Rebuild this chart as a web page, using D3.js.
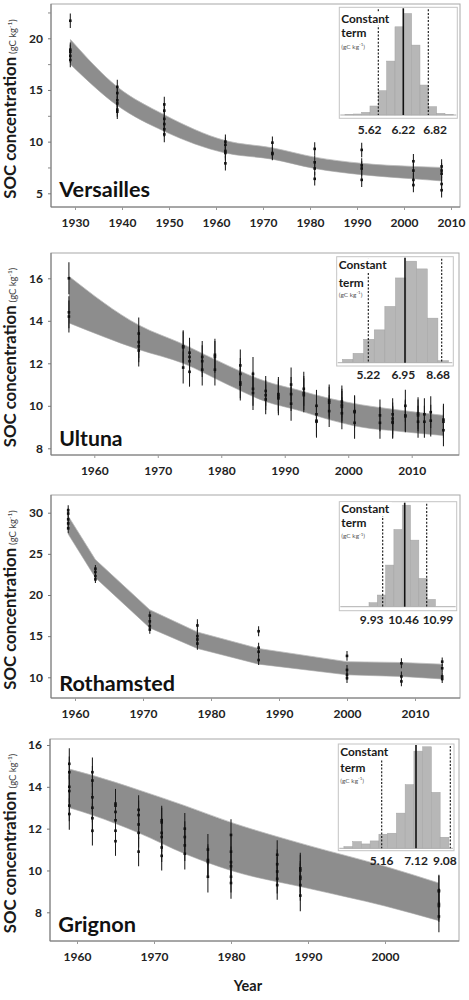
<!DOCTYPE html>
<html><head><meta charset="utf-8">
<script src="https://cdn.jsdelivr.net/npm/d3@7"></script>
<style>body{margin:0;background:#fff} svg{display:block} text{font-family:Lato,"Open Sans",sans-serif}</style>
</head><body><svg id="c" width="469" height="1000"></svg>
<script>
// ---------- DATA ----------
// Versailles
const versaillesYears = [1929,1939,1949,1962,1972,1981,1991,2002,2008];
const versaillesObs = [[21.7,18.9,18.7,18.3,17.9],[15.3,14.7,14.0,13.7,13.1,12.9],[13.6,13.0,12.2,11.7,11.2,10.7],[10.0,9.7,9.1,8.9,7.9],[9.9,8.9,8.8],[9.3,8.0,7.4,6.4],[9.2,7.7,7.4,6.3],[8.1,7.2,6.3,5.8],[7.6,7.2,6.9,5.9,5.3]];
const versaillesErr = [0.7,0.7,0.75,0.7,0.6,0.65,0.7,0.7,0.7];
const versaillesBandYears = [1929,1939,1949,1962,1972,1981,1991,2002,2008];
const versaillesBandUpper = [19.9,15.3,12.6,10.1,9.4,8.5,7.9,7.6,7.5];
const versaillesBandLower = [17.5,13.5,11.0,8.9,8.3,7.4,6.8,6.4,6.2];
const versaillesHistEdges = [4.82,5.02,5.22,5.42,5.62,5.82,6.02,6.22,6.42,6.62,6.82,7.02,7.22,7.42];
const versaillesHistCounts = [2,3,8,27,73,162,265,305,210,90,25,5,2];
const versaillesCI = [5.62,6.22,6.82];
const versaillesXTicks = [1930,1940,1950,1960,1970,1980,1990,2000,2010];
const versaillesYTicks = [5,10,15,20];
const versaillesYMinor = [7.5,12.5,17.5,22.5];

// Ultuna
const ultunaYears = [1956,1967,1974,1975,1977,1979,1983,1985,1987,1989,1991,1993,1995,1997,1999,2001,2005,2007,2009,2011,2012,2013,2015];
const ultunaObs = [[16.0,14.4,14.2],[13.4,13.0,12.8,12.6],[12.8,12.75,11.8],[12.5,12.3,12.1,11.6],[12.3,12.1,11.7],[12.4,12.3,11.7],[11.9,11.5,11.1,11.0],[11.5,10.8,10.6],[10.7,10.5,10.3],[10.55,10.45,10.35],[11.0,10.55,10.1],[10.8,10.6,10.5],[10.0,9.6,9.3,9.25],[10.25,10.15,9.75],[10.2,10.05,9.95,9.65],[9.75,9.7,9.2],[9.55,9.2],[9.6,9.4,9.25,9.2],[10.0,9.55,9.5],[9.65,9.55,9.25],[9.6,9.25],[9.7,9.3],[9.35,9.25,8.85]];
const ultunaErr = [0.75,0.75,0.75,0.7,0.75,0.75,0.75,0.8,0.7,0.8,0.8,0.8,0.75,0.75,0.75,0.75,0.75,0.75,0.75,0.75,0.75,0.75,0.75];
const ultunaBandYears = [1956,1967,1974,1981,1987,1992,1997,2002,2008,2015];
const ultunaBandUpper = [16.1,13.8,12.9,11.9,11.15,10.75,10.35,10.05,9.8,9.55];
const ultunaBandLower = [13.9,12.65,12.0,11.0,10.2,9.8,9.35,9.0,8.8,8.6];
const ultunaHistEdges = [4.0,4.5,5.0,5.5,6.0,6.5,7.0,7.5,8.0,8.5,9.0];
const ultunaHistCounts = [10,28,70,98,168,253,303,280,133,6];
const ultunaCI = [5.22,6.95,8.68];
const ultunaXTicks = [1960,1970,1980,1990,2000,2010];
const ultunaYTicks = [8,10,12,14,16];

// Rothamsted
const rothamstedYears = [1959,1963,1971,1978,1987,2000,2008,2014];
const rothamstedObs = [[30.3,29.9,29.2,28.7,28.1],[23.2,22.8,22.3,21.9],[17.5,16.8,16.2,15.8],[16.3,15.0,14.6,14.1],[15.6,13.6,13.1,12.1],[12.6,10.9,10.3,9.9],[11.7,10.1,9.5],[11.9,11.1,10.1,9.8]];
const rothamstedErr = [0.6,0.45,0.5,0.75,0.6,0.6,0.6,0.5];
const rothamstedBandYears = [1959,1963,1971,1978,1987,2000,2008,2014];
const rothamstedBandUpper = [29.6,24.3,18.2,15.5,13.5,11.9,11.8,11.6];
const rothamstedBandLower = [27.4,22.1,16.0,13.5,11.6,10.3,10.1,9.8];
const rothamstedHistEdges = [9.6,9.8,10.0,10.2,10.4,10.6,10.8,11.0,11.2];
const rothamstedHistCounts = [12,35,125,232,305,200,85,22];
const rothamstedCI = [9.93,10.46,10.99];
const rothamstedXTicks = [1960,1970,1980,1990,2000,2010];
const rothamstedYTicks = [10,15,20,25,30];

// Grignon
const grignonYears = [1959,1962,1965,1968,1971,1974,1977,1980,1986,1989,2007];
const grignonObs = [[15.1,14.7,14.0,13.8,13.1,12.7],[14.7,14.3,13.5,13.0,12.5,11.9],[13.2,13.1,12.8,12.4,11.9,11.4],[12.9,12.65,12.2,11.8,10.9],[12.4,12.3,11.8,11.6,11.1,10.7],[12.0,11.6,11.2,10.8],[11.0,10.5,10.4,9.7],[11.7,10.9,10.4,10.2,9.7,9.4],[10.75,10.3,9.95,9.6,9.3],[10.1,10.0,9.7,9.6,9.3,8.8],[9.05,9.0,8.4,8.3,7.8]];
const grignonErr = [0.75,0.7,0.7,0.7,0.7,0.75,0.75,0.75,0.7,0.75,0.75];
const grignonBandYears = [1959,1962,1968,1974,1980,1990,2000,2007];
const grignonBandUpper = [14.85,14.55,13.85,13.1,12.3,11.2,10.2,9.4];
const grignonBandLower = [13.0,12.65,11.8,10.8,10.0,9.15,8.3,7.6];
const grignonHistEdges = [3.0,3.5,4.0,4.5,5.0,5.5,6.0,6.5,7.0,7.5,8.0,8.5,9.0];
const grignonHistCounts = [5,20,13,22,42,45,105,190,290,303,167,33];
const grignonCI = [5.16,7.12,9.08];
const grignonXTicks = [1960,1970,1980,1990,2000];
const grignonYTicks = [8,10,12,14,16];

const panelNames = ["Versailles","Ultuna","Rothamsted","Grignon"];
const insetTitle = ["Constant","term"];
const unitLabel = "(gC kg";
const yAxisTitle = "SOC concentration";
const xAxisTitle = "Year";

// ---------- LAYOUT ----------
const panels = [
 {name:panelNames[0], years:versaillesYears, obs:versaillesObs, err:versaillesErr,
  bY:versaillesBandYears, bU:versaillesBandUpper, bL:versaillesBandLower,
  hE:versaillesHistEdges, hC:versaillesHistCounts, ci:versaillesCI,
  xt:versaillesXTicks, yt:versaillesYTicks, ym:versaillesYMinor, curve:d3.curveMonotoneX,
  frame:[51,4,460,207], xA:[1930,75,2010,451], yA:[20,38.3,5,193.3],
  label:[59.3,197.3,90.7],
  inset:{box:[339.3,7.3,457.3,118.3], base:115, sA:[5.62,378.3,6.22,403.3], lab:[-8.6,0,6.8], labY:134.3, t1:22.7, t2:36.7, t3:48.5}},
 {name:panelNames[1], years:ultunaYears, obs:ultunaObs, err:ultunaErr,
  bY:ultunaBandYears, bU:ultunaBandUpper, bL:ultunaBandLower,
  hE:ultunaHistEdges, hC:ultunaHistCounts, ci:ultunaCI,
  xt:ultunaXTicks, yt:ultunaYTicks, ym:[], curve:d3.curveMonotoneX,
  frame:[51,253,459,455], xA:[1960,94.3,2010,411.7], yA:[16,278.3,8,448.3],
  label:[59.3,446,63.3],
  inset:{box:[336.7,256.7,453.3,366], base:362.7, sA:[5.22,368.3,6.95,405], lab:[0,-1.7,-3.5], labY:379.3, t1:269.3, t2:286.7, t3:296.5}},
 {name:panelNames[2], years:rothamstedYears, obs:rothamstedObs, err:rothamstedErr,
  bY:rothamstedBandYears, bU:rothamstedBandUpper, bL:rothamstedBandLower,
  hE:rothamstedHistEdges, hC:rothamstedHistCounts, ci:rothamstedCI,
  xt:rothamstedXTicks, yt:rothamstedYTicks, ym:[], curve:d3.curveLinear,
  frame:[51,495,460,698], xA:[1960,75,2010,415], yA:[30,512.7,10,677.3],
  label:[59.3,690.7,115.7],
  inset:{box:[339.3,501.7,456.7,610.7], base:606.7, sA:[9.93,382.7,10.46,404.7], lab:[-11,-1,11.3], labY:624, t1:513.3, t2:527.3, t3:538.3}},
 {name:panelNames[3], years:grignonYears, obs:grignonObs, err:grignonErr,
  bY:grignonBandYears, bU:grignonBandUpper, bL:grignonBandLower,
  hE:grignonHistEdges, hC:grignonHistCounts, ci:grignonCI,
  xt:grignonXTicks, yt:grignonYTicks, ym:[], curve:d3.curveMonotoneX,
  frame:[50,739,459,941], xA:[1960,77,2000,385], yA:[16,745,8,912.3],
  label:[58.3,931.7,77.7],
  inset:{box:[338.3,744,454,850.7], base:848.3, sA:[5.16,381.7,7.12,416], lab:[0,0,-5.4], labY:865, t1:756, t2:771.7, t3:782.7}}
];

const svg = d3.select("#c");
const FONT = "Lato, 'Open Sans', sans-serif";

function fitWidth(sel, target){
  const n = sel.node();
  const w = n.getComputedTextLength();
  const fs = parseFloat(sel.attr("font-size"));
  sel.attr("font-size", (fs*target/w).toFixed(2));
}

let yLabelSize = null;

panels.forEach((p, pi) => {
  const [fx0, fy0, fx1, fy1] = p.frame;
  const x = d3.scaleLinear().domain([p.xA[0], p.xA[2]]).range([p.xA[1], p.xA[3]]);
  const y = d3.scaleLinear().domain([p.yA[0], p.yA[2]]).range([p.yA[1], p.yA[3]]);
  const g = svg.append("g");
  const clipId = "clip"+pi;
  g.append("clipPath").attr("id", clipId).append("rect")
    .attr("x", fx0).attr("y", fy0).attr("width", fx1-fx0).attr("height", fy1-fy0);

  // band
  const bandData = p.bY.map((yr,i)=>({yr, u:p.bU[i], l:p.bL[i]}));
  const area = d3.area().x(d=>x(d.yr)).y0(d=>y(d.l)).y1(d=>y(d.u)).curve(p.curve);
  g.append("path").datum(bandData).attr("d", area).attr("fill", "#8d8d8d").attr("clip-path", `url(#${clipId})`);
  const lu = d3.line().x(d=>x(d.yr)).y(d=>y(d.u)).curve(p.curve);
  const ll = d3.line().x(d=>x(d.yr)).y(d=>y(d.l)).curve(p.curve);
  g.append("path").datum(bandData).attr("d", lu).attr("fill","none").attr("stroke","#bdbdbd").attr("stroke-width",0.8);
  g.append("path").datum(bandData).attr("d", ll).attr("fill","none").attr("stroke","#a5a5a5").attr("stroke-width",0.6);

  // frame
  g.append("rect").attr("x", fx0).attr("y", fy0).attr("width", fx1-fx0).attr("height", fy1-fy0)
    .attr("fill","none").attr("stroke","#a8a8a8").attr("stroke-width",1);
  g.append("line").attr("x1",fx0).attr("x2",fx0).attr("y1",fy0).attr("y2",fy1).attr("stroke","#7a7a7a");
  g.append("line").attr("x1",fx0).attr("x2",fx1).attr("y1",fy1).attr("y2",fy1).attr("stroke","#7a7a7a");

  // observations
  const pts = [];
  p.years.forEach((yr,i)=>p.obs[i].forEach(v=>pts.push({yr, v, e:p.err[i]})));
  g.append("g").selectAll("line").data(pts).join("line")
    .attr("x1", d=>x(d.yr)).attr("x2", d=>x(d.yr))
    .attr("y1", d=>y(d.v+d.e)).attr("y2", d=>y(d.v-d.e))
    .attr("stroke","#1a1a1a").attr("stroke-width",1.05);
  g.append("g").selectAll("rect").data(pts).join("rect")
    .attr("x", d=>x(d.yr)-1.3).attr("y", d=>y(d.v)-1.3).attr("width",2.6).attr("height",2.6)
    .attr("fill","#111");

  // axes
  const ax = g.append("g").attr("transform",`translate(0,${fy1})`)
    .call(d3.axisBottom(x).tickValues(p.xt).tickSize(3).tickFormat(d3.format("d")));
  ax.select(".domain").remove();
  ax.attr("font-family", FONT);
  ax.selectAll(".tick line").attr("stroke","#999");
  ax.selectAll(".tick text").attr("y", 19.5).attr("dy", null).attr("font-size", 12).attr("font-weight", 700).attr("fill","#222");

  const ay = g.append("g").attr("transform",`translate(${fx0},0)`)
    .call(d3.axisLeft(y).tickValues(p.yt).tickSize(3).tickPadding(5).tickFormat(d3.format("d")));
  ay.select(".domain").remove();
  ay.attr("font-family", FONT);
  ay.selectAll(".tick line").attr("stroke","#777");
  ay.selectAll(".tick text").attr("font-size", 12).attr("font-weight", 700).attr("fill","#222");
  if (p.ym.length){
    const am = g.append("g").attr("transform",`translate(${fx0},0)`)
      .call(d3.axisLeft(y).tickValues(p.ym).tickSize(3).tickFormat(""));
    am.select(".domain").remove();
    am.selectAll(".tick line").attr("stroke","#888");
  }

  // y axis title
  const cy = (fy0+fy1)/2 + 3.5;
  const t = g.append("text").attr("transform",`translate(15.5,${cy}) rotate(-90)`).attr("text-anchor","middle").attr("fill","#1a1a1a");
  const tb = t.append("tspan").attr("font-weight",700).attr("font-size",14).text(yAxisTitle);
  if (yLabelSize === null){ fitWidth(tb, 142); yLabelSize = tb.attr("font-size"); } else tb.attr("font-size", yLabelSize);
  t.append("tspan").attr("font-size",9.5).attr("dx",3).attr("fill","#444").text(unitLabel);
  t.append("tspan").attr("font-size",6.5).attr("dy",-4).attr("fill","#444").text("-1");
  t.append("tspan").attr("font-size",9.5).attr("dy",4).attr("fill","#444").text(")");

  // panel name
  const nm = g.append("text").attr("x", p.label[0]).attr("y", p.label[1]).attr("font-size", 22)
    .attr("font-weight", 700).attr("fill","#111").text(p.name);
  fitWidth(nm, p.label[2]);

  // inset
  const I = p.inset;
  const [bx0, by0, bx1, by1] = I.box;
  const hx = d3.scaleLinear().domain([I.sA[0], I.sA[2]]).range([I.sA[1], I.sA[3]]);
  const hy = d3.scaleLinear().domain([0, d3.max(p.hC)]).range([I.base, I.base-101.5]);
  const ig = g.append("g");
  ig.append("rect").attr("x",bx0).attr("y",by0).attr("width",bx1-bx0).attr("height",by1-by0)
    .attr("fill","#fff").attr("stroke","#c4c4c4").attr("stroke-width",1);
  const bins = p.hC.map((c,i)=>({x0:p.hE[i], x1:p.hE[i+1], c}));
  ig.selectAll("rect.bar").data(bins).join("rect").attr("class","bar")
    .attr("x", d=>hx(d.x0)).attr("width", d=>hx(d.x1)-hx(d.x0))
    .attr("y", d=>hy(d.c)).attr("height", d=>I.base-hy(d.c))
    .attr("fill","#b7b7b7").attr("stroke","#a3a3a3").attr("stroke-width",0.5);
  ig.append("line").attr("x1",bx0+1).attr("x2",bx1-1).attr("y1",I.base).attr("y2",I.base).attr("stroke","#b0b0b0");
  // CI lines
  [0,2].forEach(k=>ig.append("line").attr("x1",hx(p.ci[k])).attr("x2",hx(p.ci[k]))
    .attr("y1",by0+2).attr("y2",I.base).attr("stroke","#111").attr("stroke-width",1.1).attr("stroke-dasharray","2,1.6"));
  ig.append("line").attr("x1",hx(p.ci[1])).attr("x2",hx(p.ci[1]))
    .attr("y1",by0+1).attr("y2",I.base).attr("stroke","#111").attr("stroke-width",1.6);
  // inset title with white backing
  const addT = (txt, yy, fs, bold, col) => ig.append("text").attr("x", bx0+2).attr("y", yy).attr("font-size", fs)
      .attr("font-weight", bold?700:400).attr("fill", col).text(txt);
  const c1 = addT(insetTitle[0], I.t1, 12, true, "#1a1a1a");
  fitWidth(c1, 48);
  const fsC = c1.attr("font-size");
  const c2 = addT(insetTitle[1], I.t2, fsC, true, "#1a1a1a");
  const c3 = ig.append("text").attr("x", bx0+2).attr("y", I.t3).attr("font-size", 6.5).attr("fill","#555");
  c3.append("tspan").text(unitLabel);
  c3.append("tspan").attr("font-size",4.5).attr("dy",-2.5).text("-1");
  c3.append("tspan").attr("dy",2.5).text(")");
  [c1, c2].forEach(tt=>{
    const bb = tt.node().getBBox();
    ig.insert("rect", function(){ return tt.node(); })
      .attr("x", bb.x-1).attr("y", bb.y+1).attr("width", bb.width+3).attr("height", bb.height-1).attr("fill","#fff");
  });
  // CI labels
  p.ci.forEach((v,k)=>{
    ig.append("text").attr("x", hx(v)+I.lab[k]).attr("y", I.labY).attr("text-anchor","middle")
      .attr("font-size", 12).attr("font-weight",700).attr("fill","#222").text(d3.format(".2f")(v));
  });
});

// x axis title
svg.append("text").attr("x", 248).attr("y", 990.5).attr("text-anchor","middle")
  .attr("font-size", 14.5).attr("font-weight", 700).attr("fill","#1a1a1a").text(xAxisTitle);
</script></body></html>
